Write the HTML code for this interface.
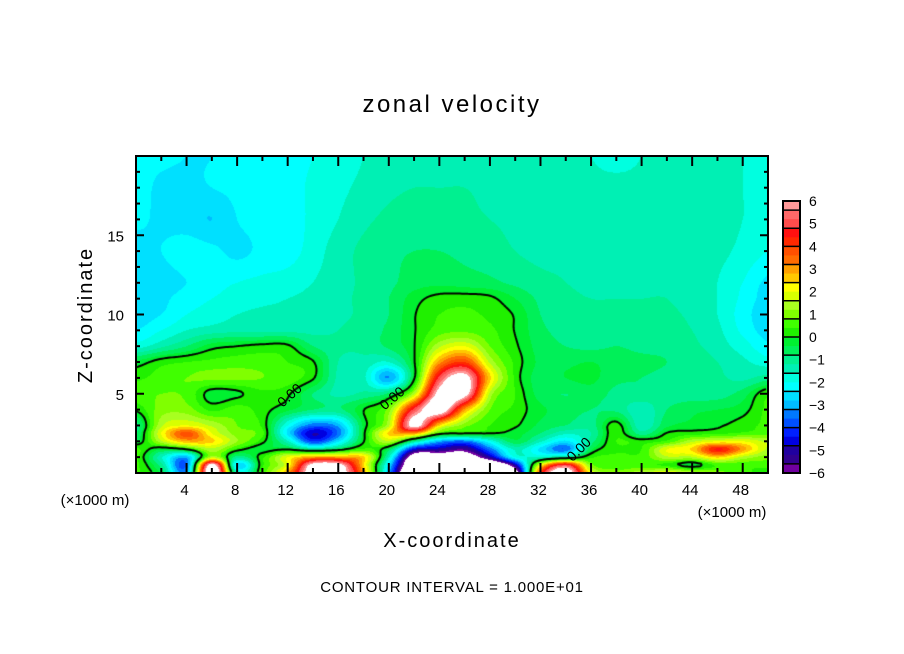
<!DOCTYPE html>
<html><head><meta charset="utf-8">
<style>
html,body{margin:0;padding:0;background:#fff;}
#wrap{position:relative;width:904px;height:654px;overflow:hidden;background:#fff;font-family:"Liberation Sans","DejaVu Sans",sans-serif;}
canvas{position:absolute;left:136px;top:156px;}
svg{position:absolute;left:0;top:0;}
</style></head>
<body>
<div id="wrap">
<canvas id="field" width="632" height="317"></canvas>
<svg id="ov" width="904" height="654">
  <text x="452" y="112" text-anchor="middle" font-size="24" letter-spacing="2.5">zonal velocity</text>
  <text x="452" y="547" text-anchor="middle" font-size="20" letter-spacing="2">X-coordinate</text>
  <text transform="translate(92,315) rotate(-90)" text-anchor="middle" font-size="20" letter-spacing="2">Z-coordinate</text>
  <text x="95" y="505" text-anchor="middle" font-size="15">(×1000 m)</text>
  <text x="732" y="517" text-anchor="middle" font-size="15">(×1000 m)</text>
  <text x="452" y="592" text-anchor="middle" font-size="15" letter-spacing="0.8">CONTOUR INTERVAL = 1.000E+01</text>
  <g id="axes"></g>
  <g id="cbar"></g>
</svg>
</div>
<script>
// ---- data ----
const xCols = [0,2,4,6,8,10,12,14,16,18,20,22,24,26,28,30,32,34,36,38,40,42,44,46,48,50];
const zRows = [0,0.5,1,1.5,2,2.5,3,4,5,6,7,8,9,10,11,12,14,16,18,20];
const u_z0   = [0.5,-0.5,-3.0,7.5,-1.5,0.5,3.0,7.0,7.0,3.0,-3.0,-9,-9,-9,-9,-7,4,7,2,1,1.5,2,1.5,1,0.5,0.3];
const u_z05  = [0.5,-1.0,-3.5,6.5,-2.5,0.3,2.0,6.5,6.5,2.5,-2.5,-8,-8,-8,-8,-5,2.0,5.0,1.0,0.5,0.5,0.3,-0.3,0.5,0.5,0.5];
const u_z1   = [0.5,-1.5,-3.0,1.5,-1.0,0.3,2.0,3.0,3.0,2.5,-1.5,-7,-7,-7,-5,-2,-1.5,-1.0,0.3,0.5,0.5,1.5,1.5,2.5,1.5,1.0];
const u_z15  = [0.5,-0.3,0.2,1.5,0.3,-0.3,-0.2,-1.0,-0.5,0.5,-0.5,-4.5,-5.0,-5.5,-3.5,-1.5,-2.5,-3.5,-0.5,0.3,0.4,2.0,2.5,4.5,3.0,1.5];
const u_z2   = [-0.5,1.5,2.8,2.5,1.2,0.2,-1.5,-4.0,-2.5,-0.1,1.5,-1.0,-3.0,-3.5,-2.0,-0.5,-1.5,-2.5,-1.0,0.4,0.2,0.5,1.5,2.0,2.0,1.5];
const u_z25  = [-0.8,2.0,3.8,2.0,1.0,0.5,-2.5,-4.8,-3.5,-0.2,2.5,3.0,0.5,0.2,0.1,-0.2,-0.8,-1.5,-1.2,0.3,-1.0,0.0,0.2,0.3,0.5,0.6];
const u_z3   = [-1.0,1.5,2.0,1.5,0.8,0.3,-2.0,-3.5,-3.0,-0.3,1.5,6.5,2.5,1.0,0.4,0.1,-0.5,-0.8,-1.0,0.2,-1.5,-0.5,-0.3,-0.1,0.2,0.5];
const u_z4   = [0.1,1.0,1.0,0.3,0.6,0.2,-0.3,-0.8,-0.9,-0.05,1.0,5.0,7.0,3.0,0.8,0.3,-0.3,-0.6,-0.8,-0.9,-1.5,-0.8,-0.5,-0.4,-0.2,0.5];
const u_z5   = [0.6,0.8,0.7,-0.2,-0.1,0.3,0.1,-0.8,-1.3,-1.1,-0.7,1.5,6.5,6.5,1.5,0.4,-0.6,-0.8,-0.6,-0.9,-0.9,-1.0,-1.0,-1.0,-0.6,0.3];
const u_z6   = [0.3,0.6,0.8,0.9,0.9,0.8,0.6,0.1,-1.3,-1.5,-3.2,-0.2,5.0,6.5,2.5,0.3,-0.6,-0.4,-0.3,-0.7,-0.8,-0.9,-0.9,-1.1,-1.3,-1.0];
const u_z7   = [-0.3,0.2,0.4,0.5,0.6,0.6,0.4,0.05,-1.2,-1.3,-1.6,-0.1,3.0,4.0,1.5,0.3,-0.5,-0.5,-0.4,-0.6,-0.7,-0.8,-0.9,-1.2,-1.5,-1.8];
const u_z8   = [-1.8,-1.3,-0.8,-0.2,-0.03,0.1,0.08,-0.8,-1.1,-1.1,-0.7,-0.05,1.5,2.0,0.8,0.1,-0.6,-0.8,-0.9,-0.8,-0.9,-0.9,-1.1,-1.4,-1.8,-2.3];
const u_z9   = [-2.4,-2.0,-1.6,-1.4,-1.3,-1.3,-1.3,-1.3,-1.2,-1.0,-0.7,-0.05,0.6,0.7,0.5,-0.02,-0.7,-0.9,-1.0,-1.0,-1.0,-1.0,-1.2,-1.5,-2.1,-2.6];
const u_z10  = [-2.6,-2.4,-2.0,-1.8,-1.6,-1.5,-1.5,-1.4,-1.3,-1.1,-0.8,-0.05,0.4,0.5,0.3,-0.05,-0.8,-1.0,-1.1,-1.1,-1.1,-1.1,-1.3,-1.6,-2.2,-2.7];
const u_z11  = [-2.6,-2.5,-2.2,-2.0,-1.8,-1.7,-1.6,-1.5,-1.3,-1.1,-0.8,-0.2,0.15,0.2,0.1,-0.4,-0.9,-1.1,-1.2,-1.2,-1.2,-1.2,-1.4,-1.6,-2.1,-2.6];
const u_z12  = [-2.7,-2.6,-2.4,-2.2,-2.0,-1.9,-1.8,-1.6,-1.4,-1.1,-0.9,-0.6,-0.5,-0.6,-0.7,-0.9,-1.1,-1.2,-1.3,-1.3,-1.3,-1.3,-1.4,-1.6,-2.0,-2.5];
const u_z14  = [-2.6,-2.4,-2.2,-2.3,-2.5,-2.3,-2.2,-1.8,-1.4,-1.1,-0.9,-0.8,-0.8,-0.9,-1.0,-1.2,-1.3,-1.3,-1.4,-1.4,-1.4,-1.4,-1.4,-1.5,-1.7,-2.0];
const u_z16  = [-2.3,-2.5,-2.6,-2.8,-2.4,-2.2,-2.2,-1.9,-1.6,-1.3,-1.1,-1.0,-1.0,-1.1,-1.2,-1.3,-1.4,-1.4,-1.4,-1.4,-1.4,-1.4,-1.4,-1.5,-1.6,-1.8];
const u_z18  = [-2.2,-2.5,-2.5,-2.4,-2.3,-2.2,-2.2,-1.9,-1.7,-1.5,-1.3,-1.2,-1.2,-1.2,-1.3,-1.4,-1.4,-1.4,-1.5,-1.5,-1.5,-1.4,-1.4,-1.5,-1.6,-1.8];
const u_z20  = [-2.2,-2.3,-2.4,-2.4,-2.3,-2.2,-2.2,-2.0,-1.8,-1.6,-1.5,-1.4,-1.4,-1.4,-1.4,-1.4,-1.4,-1.5,-1.6,-1.7,-1.6,-1.5,-1.4,-1.5,-1.6,-1.8];
const uGrid = [u_z0,u_z05,u_z1,u_z15,u_z2,u_z25,u_z3,u_z4,u_z5,u_z6,u_z7,u_z8,u_z9,u_z10,u_z11,u_z12,u_z14,u_z16,u_z18,u_z20];
const xTicks = [4,8,12,16,20,24,28,32,36,40,44,48];
const zTicks = [5,10,15];
const cbarLabels = ["6","5","4","3","2","1","0","\u22121","\u22122","\u22123","\u22124","\u22125","\u22126"];
const cbarValues = [6,5,4,3,2,1,0,-1,-2,-3,-4,-5,-6];
const shades = ["#ff9898","#ff6868","#ff4c4c","#ff1010","#ff2800","#ff5000","#ff6c00","#ffa000","#ffc800","#ffff00","#d8ff00","#a8ff20","#80ff00","#40ff00","#20f000","#00f030","#00f058","#00f090","#00f0b4","#00ffe0","#00ffff","#00e0ff","#00bcff","#0078ff","#0050ff","#0020ff","#0000e0","#2000a0","#300090","#7000a0"];

// ---- scales ----
const PL=136, PT=156, PW=632, PH=317;
const xMax=50, zMax=20;
function xScale(x){return PL + x/xMax*PW;}
function zScale(z){return PT + PH - z/zMax*PH;}
function colorFor(v){
  if (v>6 || v<-6) return [255,255,255];
  let i=Math.floor((6-v)/0.4); if(i<0)i=0; if(i>29)i=29;
  const h=shades[i];
  return [parseInt(h.substr(1,2),16),parseInt(h.substr(3,2),16),parseInt(h.substr(5,2),16)];
}
function rowIndex(z){
  for(let k=0;k<zRows.length-1;k++){
    if(z<=zRows[k+1]) return k+(z-zRows[k])/(zRows[k+1]-zRows[k]);
  }
  return zRows.length-1;
}
function g(r,c){
  r=Math.max(0,Math.min(uGrid.length-1,r));
  c=Math.max(0,Math.min(xCols.length-1,c));
  return uGrid[r][c];
}
function cr(p0,p1,p2,p3,t){
  return p1+0.5*t*(p2-p0+t*(2*p0-5*p1+4*p2-p3+t*(3*(p1-p2)+p3-p0)));
}
function field(x,z){
  const fc=x/(xCols[1]-xCols[0]); const fr=rowIndex(z);
  const c=Math.floor(fc), r=Math.floor(fr); const tc=fc-c, tr=fr-r;
  const rowv=[];
  for(let k=-1;k<=2;k++){
    rowv.push(cr(g(r+k,c-1),g(r+k,c),g(r+k,c+1),g(r+k,c+2),tc));
  }
  return cr(rowv[0],rowv[1],rowv[2],rowv[3],tr);
}

// ---- draw field ----
const cv=document.getElementById('field');
const ctx=cv.getContext('2d');
const img=ctx.createImageData(PW,PH);
const vals=new Float32Array(PW*PH);
for(let py=0;py<PH;py++){
  const z=(PH-py-0.5)/PH*zMax;
  for(let px=0;px<PW;px++){
    const x=(px+0.5)/PW*xMax;
    const v=field(x,z); vals[py*PW+px]=v;
    const col=colorFor(v); const o=(py*PW+px)*4;
    img.data[o]=col[0];img.data[o+1]=col[1];img.data[o+2]=col[2];img.data[o+3]=255;
  }
}
ctx.putImageData(img,0,0);
// zero contour (marching squares)
ctx.strokeStyle='#000'; ctx.lineWidth=2; ctx.beginPath();
const S=2;
function V(px,py){px=Math.min(px,PW-1);py=Math.min(py,PH-1);return vals[py*PW+px];}
for(let py=0;py<PH-S;py+=S){
  for(let px=0;px<PW-S;px+=S){
    const a=V(px,py),b=V(px+S,py),c=V(px+S,py+S),d=V(px,py+S);
    const pts=[];
    if((a>0)!==(b>0)) pts.push([px+S*a/(a-b),py]);
    if((b>0)!==(c>0)) pts.push([px+S,py+S*b/(b-c)]);
    if((c>0)!==(d>0)) pts.push([px+S*d/(d-c),py+S]);
    if((d>0)!==(a>0)) pts.push([px,py+S*a/(a-d)]);
    if(pts.length>=2){ctx.moveTo(pts[0][0],pts[0][1]);ctx.lineTo(pts[1][0],pts[1][1]);}
    if(pts.length===4){ctx.moveTo(pts[2][0],pts[2][1]);ctx.lineTo(pts[3][0],pts[3][1]);}
  }
}
ctx.stroke();

// ---- axes ----
const NS='http://www.w3.org/2000/svg';
const axes=document.getElementById('axes');
function mk(tag,attrs,parent){const e=document.createElementNS(NS,tag);for(const k in attrs)e.setAttribute(k,attrs[k]);parent.appendChild(e);return e;}
const frame=mk('rect',{x:PL,y:PT,width:PW,height:PH,fill:'none',stroke:'#000','stroke-width':2},axes);


for(let x=2;x<xMax;x+=2){
  const major=(x%4===0); const L=major?10:5; const X=xScale(x);
  const t1=mk('line',{x1:X,y1:PT+PH,x2:X,y2:PT+PH-L,stroke:'#000','stroke-width':2},axes);
  
  
  const t2=mk('line',{x1:X,y1:PT,x2:X,y2:PT+L,stroke:'#000','stroke-width':2},axes);
  
  
}
for(let z=1;z<zMax;z++){
  const major=(z%5===0); const L=major?8:4; const Y=zScale(z);
  const t1=mk('line',{x1:PL,y1:Y,x2:PL+L,y2:Y,stroke:'#000','stroke-width':2},axes);
  
  
  const t2=mk('line',{x1:PL+PW,y1:Y,x2:PL+PW-L,y2:Y,stroke:'#000','stroke-width':2},axes);
  
  
}
xTicks.forEach(x=>{
  const t=mk('text',{x:xScale(x)-2,y:495,'text-anchor':'middle','font-size':15},axes);
  t.textContent=String(x);
  
  
});
zTicks.forEach(z=>{
  const t=mk('text',{x:124,y:zScale(z)+6,'text-anchor':'end','font-size':15},axes);
  t.textContent=String(z);
  
  
});
// contour labels
[[12.4,5.0,-42],[20.5,4.8,-40],[35.3,1.6,-45]].forEach(p=>{
  const t=mk('text',{x:0,y:0,'text-anchor':'middle','font-size':14,transform:'translate('+xScale(p[0])+','+(zScale(p[1])+5)+') rotate('+p[2]+')'},axes);
  t.textContent='0.00';
  
  
});

// ---- colorbar ----
const cb=document.getElementById('cbar');
const CBX=783, CBW=17, CBT=201, CBB=473;
function cbScale(v){return CBT+(6-v)/12*(CBB-CBT);}
shades.forEach((c,i)=>{
  const v0=6-0.4*i, v1=6-0.4*(i+1);
  const r=mk('rect',{x:CBX,y:cbScale(v0),width:CBW,height:cbScale(v1)-cbScale(v0)+0.5,fill:c},cb);
  
  
});
for(let i=1;i<30;i+=2){
  const y=cbScale(6-0.4*i);
  const l=mk('line',{x1:CBX,y1:y,x2:CBX+CBW,y2:y,stroke:'#000','stroke-width':1.5},cb);
  
  
}
const cbf=mk('rect',{x:CBX,y:CBT,width:CBW,height:CBB-CBT,fill:'none',stroke:'#000','stroke-width':2},cb);


cbarValues.forEach((v,i)=>{
  const t=mk('text',{x:809,y:cbScale(v)+5,'font-size':14},cb);
  t.textContent=cbarLabels[i];
  
  
});
</script>
</body></html>
